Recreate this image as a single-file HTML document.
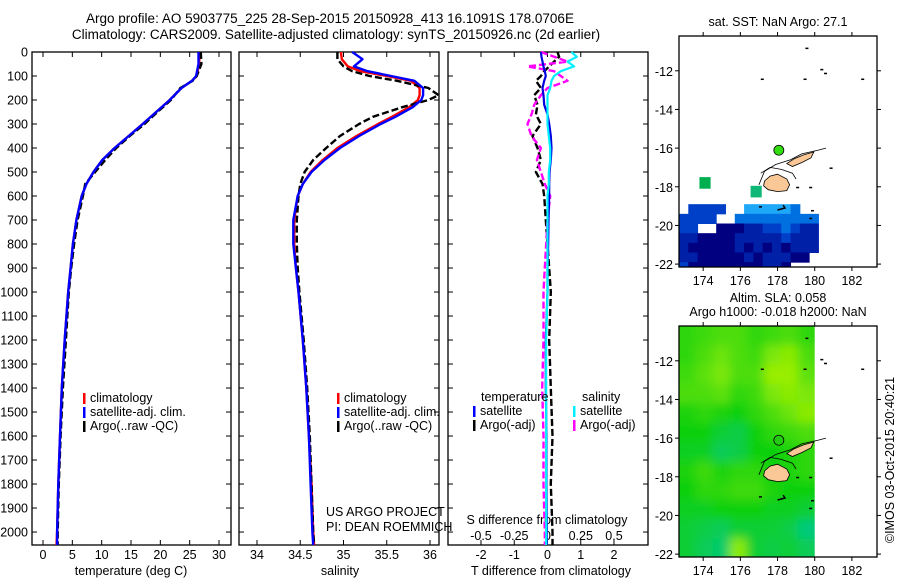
<!DOCTYPE html>
<html><head><meta charset="utf-8"><style>
html,body{margin:0;padding:0;background:#fff}
svg{display:block;font-family:"Liberation Sans",sans-serif}
text{font-size:12.5px;fill:#000}
</style></head><body>
<svg id="fig" width="900" height="580" viewBox="0 0 900 580">
<defs>
<clipPath id="clip1"><rect x="679" y="36" width="198" height="231"/></clipPath>
<clipPath id="clip2"><rect x="679" y="326" width="198" height="231"/></clipPath>
<filter id="blur" x="-10%" y="-10%" width="120%" height="120%"><feGaussianBlur stdDeviation="5"/></filter>
</defs>
<text x="330" y="23" text-anchor="middle" style="font-size:13.5px">Argo profile: AO 5903775_225 28-Sep-2015 20150928_413 16.1091S 178.0706E</text>
<text x="336" y="39" text-anchor="middle" style="font-size:13.5px">Climatology: CARS2009. Satellite-adjusted climatology: synTS_20150926.nc (2d earlier)</text>
<g id="p1"></g>
<g id="p2"></g>
<g id="p3"></g>
<g id="m1"></g>
<g id="m2"></g>
<text transform="translate(894,460) rotate(-90)" text-anchor="middle">©IMOS 03-Oct-2015 20:40:21</text>
</svg>
<script>
// ---- data ----
const depthTicks = [0,100,200,300,400,500,600,700,800,900,1000,1100,1200,1300,1400,1500,1600,1700,1800,1900,2000];
const tempTicks = [0,5,10,15,20,25,30];
const salTicks = [34,34.5,35,35.5,36];
const tdiffTicks = [-2,-1,0,1,2];
const sdiffTicks = [-0.5,-0.25,0,0.25,0.5];
const lonTicks = [174,176,178,180,182];
const latTicks = [-12,-14,-16,-18,-20,-22];

const tDepth = [0,50,100,120,150,200,250,300,350,400,450,500,550,600,700,800,900,1000,1200,1400,1600,1800,2000,2054];
const tClim  = [26.7,26.6,26.2,25.4,23.6,21.6,19.3,17.0,14.6,12.2,10.1,8.6,7.4,6.6,5.7,5.1,4.7,4.3,3.7,3.2,2.9,2.6,2.4,2.3];
const tSat   = [26.5,26.5,26.1,25.4,23.6,21.6,19.3,17.0,14.6,12.2,10.1,8.6,7.4,6.6,5.7,5.1,4.7,4.3,3.7,3.2,2.9,2.6,2.4,2.4];
const tArgo  = [26.9,27.0,26.2,25.5,23.4,21.8,19.5,17.3,14.8,12.5,10.6,8.9,7.2,6.8,5.9,5.3,4.8,4.4,3.9,3.4,3.0,2.7,2.5,2.5];

const sDepth = [0,30,60,80,100,120,150,180,200,230,270,300,350,400,450,500,550,600,700,800,900,1000,1200,1400,1600,1800,2000,2054];
const sClim  = [34.97,34.98,35.05,35.2,35.5,35.78,35.88,35.88,35.86,35.76,35.56,35.4,35.15,34.93,34.76,34.62,34.53,34.47,34.43,34.43,34.45,34.48,34.53,34.57,34.6,34.63,34.65,34.66];
const sSat   = [35.1,35.22,35.12,35.28,35.55,35.82,35.92,35.92,35.9,35.8,35.6,35.43,35.18,34.96,34.78,34.63,34.53,34.47,34.42,34.42,34.45,34.48,34.53,34.57,34.6,34.62,34.64,34.65];
const sArgo  = [34.93,34.93,35.0,35.1,35.3,35.62,35.98,36.1,35.98,35.68,35.34,35.18,34.96,34.8,34.65,34.55,34.5,34.48,34.46,34.46,34.47,34.49,34.54,34.58,34.61,34.63,34.65,34.66];

const dDepth  = [0,20,40,60,80,100,120,150,180,220,260,300,350,400,450,500,550,600,700,800,900,1000,1200,1400,1600,1800,2000,2054];
const dTsat   = [-0.2,-0.18,-0.15,-0.12,-0.08,-0.05,-0.1,-0.15,-0.12,-0.1,0.0,0.05,0.1,0.12,0.1,0.06,0.05,0.05,0.03,0.02,0.0,0.0,-0.05,-0.05,-0.03,-0.03,-0.02,-0.02];
const dTargo  = [0.3,0.35,0.2,0.05,-0.1,-0.2,-0.35,-0.2,-0.4,-0.3,-0.35,-0.2,-0.45,-0.3,-0.2,-0.35,-0.15,-0.1,-0.05,0.0,0.05,0.1,0.05,0.1,0.15,0.1,0.15,0.15];
const dSsat   = [0.18,0.22,0.15,0.2,0.1,0.05,0.03,0.02,0.0,0.0,0.0,0.0,0.01,0.02,0.02,0.01,0.01,0.0,0.0,0.0,0.0,0.0,-0.01,-0.01,-0.01,-0.01,-0.01,-0.01];
const dSargo  = [-0.05,0.05,0.15,-0.15,0.05,0.1,0.15,0.0,-0.05,-0.1,-0.12,-0.15,-0.12,-0.05,-0.08,-0.05,-0.02,0.02,0.0,-0.01,-0.02,-0.03,-0.03,-0.04,-0.03,-0.03,-0.02,-0.02];

// SST grid (0.5 deg cells from lon 172.7, rows from lat -18.4 downward); 0 = no data
const sstLon0 = 172.7, sstLat0 = -18.4;
const sstRows = [
  "0000000000000000",
  "0333300555554000",
  "3333004444444440",
  "3300111223343220",
  "2211112222232220",
  "2111112121212220",
  "2211111212221100",
  "3111111112210000"
];
const sstColors = ["none","#000080","#0020a8","#0040c8","#0070e0","#20a8f8"];
const greenSquares = [[174.1,-17.8,"#00b050"],[176.85,-18.25,"#10b878"]];

// SLA grid: 8 cols from lon 172.7 to 180, 12 rows 1 deg from lat -10.2
const slaGrid = [
  [0.5,0.55,0.6,0.6,0.5,0.55,0.6,0.5],
  [0.5,0.6,0.7,0.6,0.55,0.75,0.8,0.6],
  [0.55,0.65,0.75,0.6,0.6,0.85,0.85,0.65],
  [0.6,0.6,0.65,0.5,0.55,0.75,0.8,0.75],
  [0.45,0.5,0.45,0.4,0.5,0.6,0.7,0.8],
  [0.4,0.4,0.3,0.25,0.4,0.5,0.55,0.6],
  [0.35,0.35,0.2,0.25,0.4,0.4,0.45,0.5],
  [0.45,0.55,0.45,0.5,0.5,0.4,0.45,0.5],
  [0.4,0.5,0.5,0.55,0.55,0.45,0.4,0.4],
  [0.35,0.35,0.4,0.4,0.4,0.35,0.35,0.3],
  [0.3,0.25,0.2,0.3,0.3,0.3,0.25,0.1],
  [0.3,0.2,0.15,0.8,0.3,0.25,0.3,0.2]
];
const argoPos = [178.07,-16.11];

// ---- helpers ----
const NS = "http://www.w3.org/2000/svg";
function mk(parent, tag, attrs, txt){
  const e = document.createElementNS(NS, tag);
  for (const k in attrs) e.setAttribute(k, attrs[k]);
  if (txt !== undefined) e.textContent = txt;
  parent.appendChild(e);
  return e;
}
const TOP=52, BOT=545, DMIN=0, DMAX=2054;
const yD = d => TOP + (d-DMIN)/(DMAX-DMIN)*(BOT-TOP);
function lin(a,b,pa,pb){ return v => pa + (v-a)/(b-a)*(pb-pa); }

function panelFrame(g, x0, x1, showLabels){
  const r = mk(g,'rect',{x:x0,y:TOP,width:x1-x0,height:BOT-TOP,fill:'none',stroke:'#000','stroke-width':1.3});
  
  
  depthTicks.forEach(d=>{
    const y=yD(d);
    mk(g,'line',{x1:x0,x2:x0+5,y1:y,y2:y,stroke:'#000'});
    mk(g,'line',{x1:x1-5,x2:x1,y1:y,y2:y,stroke:'#000'});
    if(showLabels){
      const t = mk(g,'text',{x:x0-4,y:y+4.5,'text-anchor':'end'}, String(d));
      
      
    }
  });
}
function xTicks(g, ticks, sx, yl, fmt, topTicks){
  ticks.forEach(v=>{
    const x=sx(v);
    if(topTicks) mk(g,'line',{x1:x,x2:x,y1:TOP,y2:TOP+5,stroke:'#000'});
    mk(g,'line',{x1:x,x2:x,y1:BOT,y2:BOT-5,stroke:'#000'});
    const t = mk(g,'text',{x:x,y:yl,'text-anchor':'middle'}, fmt?fmt(v):String(v));
    
    
  });
}
function series(g, xs, ds, sx, color, dashed, w, name){
  const pts = ds.map((d,i)=> sx(xs[i]).toFixed(1)+','+yD(d).toFixed(1)).join(' ');
  const p = mk(g,'polyline',{points:pts,fill:'none',stroke:color,'stroke-width':w||2.2,'stroke-dasharray':dashed?'7,3':'none','stroke-linejoin':'round'});
  
  
}
function legend(g, x, y0, items){
  items.forEach((it,i)=>{
    const y=y0+i*14;
    mk(g,'rect',{x:x,y:y-9,width:2.5,height:11,fill:it[1]});
    const t = mk(g,'text',{x:x+7,y:y}, it[0]);
    
    
  });
}

// ---- panel 1: temperature ----
{
  const g=document.getElementById('p1');
  const sx=lin(0,30,43,219);
  panelFrame(g,32,231,true);
  xTicks(g,tempTicks,sx,559,null,true);
  series(g,tClim,tDepth,sx,'#f00',false,2.4,'temp-climatology-line');
  series(g,tArgo,tDepth,sx,'#000',true,2.4,'temp-argo-line');
  series(g,tSat,tDepth,sx,'#0000ff',false,2.4,'temp-satellite-line');
  legend(g,83,402,[['climatology','#f00'],['satellite-adj. clim.','#00f'],['Argo(..raw -QC)','#000']]);
  const t=mk(g,'text',{x:131,y:575,'text-anchor':'middle'},'temperature (deg C)');
  
  
}
// ---- panel 2: salinity ----
{
  const g=document.getElementById('p2');
  const sx=lin(34,36,257,430);
  panelFrame(g,239,439,false);
  xTicks(g,salTicks,sx,559,null,true);
  series(g,sClim,sDepth,sx,'#f00',false,2.4,'sal-climatology-line');
  series(g,sArgo,sDepth,sx,'#000',true,2.4,'sal-argo-line');
  series(g,sSat,sDepth,sx,'#0000ff',false,2.4,'sal-satellite-line');
  legend(g,337,402,[['climatology','#f00'],['satellite-adj. clim.','#00f'],['Argo(..raw -QC)','#000']]);
  mk(g,'text',{x:326,y:516},'US ARGO PROJECT');
  mk(g,'text',{x:326,y:531},'PI: DEAN ROEMMICH');
  const t=mk(g,'text',{x:340,y:575,'text-anchor':'middle'},'salinity');
  
  
}
// ---- panel 3: differences ----
{
  const g=document.getElementById('p3');
  const sxT=lin(-2,2,481,614);
  const sxS=lin(-0.5,0.5,481,614);
  panelFrame(g,448,648,false);
  tdiffTicks.forEach(v=>{mk(g,'line',{x1:sxT(v),x2:sxT(v),y1:TOP,y2:TOP+5,stroke:'#000'});});
  xTicks(g,tdiffTicks,sxT,559,null,false);
  sdiffTicks.forEach(v=>{
    const t=mk(g,'text',{x:sxS(v),y:540,'text-anchor':'middle'},String(v));
    
    
  });
  const st=mk(g,'text',{x:547,y:524,'text-anchor':'middle'},'S difference from climatology');
  
  
  series(g,dTargo,dDepth,sxT,'#000',true,2.4,'tdiff-argo-line');
  series(g,dSargo,dDepth,sxS,'#ff00ff',true,2.4,'sdiff-argo-line');
  series(g,dTsat,dDepth,sxT,'#0000e0',false,2.2,'tdiff-satellite-line');
  series(g,dSsat,dDepth,sxS,'#00f0ff',false,2.2,'sdiff-satellite-line');
  mk(g,'text',{x:481,y:401},'temperature');
  mk(g,'text',{x:582,y:401},'salinity');
  legend(g,473,415,[['satellite','#00f'],['Argo(-adj)','#000']]);
  legend(g,573,415,[['satellite','#00f0ff'],['Argo(-adj)','#ff00ff']]);
  const t=mk(g,'text',{x:551,y:575,'text-anchor':'middle'},'T difference from climatology');
  
  
}
// ---- maps ----
const MX0=679, MX1=877, LON0=172.7, LON1=183.35, LATT=-10.2, LATB=-22.15;
const mxL = lin(LON0,LON1,MX0,MX1);
function drawCoast(g, my){
  const sx=mxL;
  const P=(arr)=>arr.map(p=>sx(p[0]).toFixed(1)+','+my(p[1]).toFixed(1)).join(' ');
  mk(g,'polygon',{points:P([[177.3,-17.7],[177.6,-17.45],[178.0,-17.35],[178.5,-17.6],[178.65,-17.9],[178.5,-18.2],[178.0,-18.25],[177.5,-18.15],[177.25,-17.95]]),fill:'#f9c896',stroke:'#000','stroke-width':0.8});
  mk(g,'polygon',{points:P([[178.5,-16.8],[178.9,-16.55],[179.4,-16.35],[179.95,-16.2],[179.8,-16.5],[179.3,-16.75],[178.8,-16.95]]),fill:'#f9c896',stroke:'#000','stroke-width':0.8});
  mk(g,'polyline',{points:P([[177.0,-17.9],[177.3,-17.2],[177.9,-16.85],[178.7,-16.6],[179.3,-16.3],[180.2,-16.1],[180.6,-16.0]]),fill:'none',stroke:'#000','stroke-width':0.8});
  mk(g,'polyline',{points:P([[177.1,-17.3],[177.6,-17.0],[178.2,-17.1],[178.8,-17.3],[179.0,-17.6]]),fill:'none',stroke:'#000','stroke-width':0.8});
  mk(g,'polyline',{points:P([[178.0,-19.2],[178.4,-19.1],[178.3,-18.95]]),fill:'none',stroke:'#000','stroke-width':1.5});
  [[179.5,-10.8],[180.3,-11.9],[180.5,-12.1],[179.4,-12.4],[182.5,-12.4],[177.1,-12.4],[180.8,-17.0],[179.7,-18.0],[179.0,-18.0],[179.8,-19.2],[179.7,-19.6],[177.0,-19.0]].forEach(p=>{
    mk(g,'rect',{x:sx(p[0]),y:my(p[1]),width:3,height:1.5,fill:'#000'});
  });
}
function mapAxes(g, top, bot, my){
  const r=mk(g,'rect',{x:MX0,y:top,width:MX1-MX0,height:bot-top,fill:'none',stroke:'#000','stroke-width':1.3});
  
  
  lonTicks.forEach(v=>{
    const x=mxL(v);
    mk(g,'line',{x1:x,x2:x,y1:top-4,y2:top,stroke:'#000'});
    mk(g,'line',{x1:x,x2:x,y1:bot,y2:bot+4,stroke:'#000'});
    const t=mk(g,'text',{x:x,y:bot+18,'text-anchor':'middle'},String(v));
    
    
  });
  latTicks.forEach(v=>{
    const y=my(v);
    mk(g,'line',{x1:MX0-4,x2:MX0,y1:y,y2:y,stroke:'#000'});
    mk(g,'line',{x1:MX1,x2:MX1+4,y1:y,y2:y,stroke:'#000'});
    const t=mk(g,'text',{x:MX0-6,y:y+5,'text-anchor':'end'},String(v));
    
    
  });
}
{
  const g=document.getElementById('m1');
  const top=36, bot=267;
  const my=lin(LATT,LATB,top,bot);
  const cg=mk(g,'g',{'clip-path':'url(#clip1)'});
  sstRows.forEach((row,ri)=>{
    for(let ci=0;ci<row.length;ci++){
      const v=+row[ci];
      if(!v) continue;
      const lo=sstLon0+ci*0.5, la=sstLat0-ri*0.5;
      const c=mk(cg,'rect',{x:mxL(lo),y:my(la),width:mxL(lo+0.5)-mxL(lo)+0.5,height:my(la-0.5)-my(la)+0.5,fill:sstColors[v]});
      
      
    }
  });
  greenSquares.forEach(s=>{
    const c=mk(cg,'rect',{x:mxL(s[0]-0.3),y:my(s[1]+0.3),width:mxL(0.6)-mxL(0),height:my(-0.6)-my(0),fill:s[2]});
    
    
  });
  drawCoast(cg,my);
  mk(g,'circle',{cx:mxL(argoPos[0]),cy:my(argoPos[1]),r:5,fill:'#33dd11',stroke:'#000','stroke-width':0.8});
  mapAxes(g,top,bot,my);
  const t=mk(g,'text',{x:778,y:26,'text-anchor':'middle'},'sat. SST: NaN Argo: 27.1');
  
  
}
function slaColor(v){
  const stops=[[0,[0,200,160]],[0.4,[16,208,16]],[1,[200,248,0]]];
  let a=stops[0],b=stops[1];
  if(v>0.4){a=stops[1];b=stops[2];}
  const f=Math.max(0,Math.min(1,(v-a[0])/(b[0]-a[0])));
  const c=a[1].map((x,i)=>Math.round(x+(b[1][i]-x)*f));
  return 'rgb('+c.join(',')+')';
}
{
  const g=document.getElementById('m2');
  const top=326, bot=557;
  const my=lin(LATT,LATB,top,bot);
  const ncol=slaGrid[0].length;
  const cw=(180-172.7)/ncol;
  const cl=mk(g,'g',{'clip-path':'url(#clip2)'});
  const cg=mk(cl,'g',{filter:'url(#blur)'});
  slaGrid.forEach((row,ri)=>{
    row.forEach((v,ci)=>{
      const lo=172.7+ci*cw, la=LATT-ri;
      const x0 = ci===0 ? MX0-15 : mxL(lo);
      const y0 = ri===0 ? top-15 : my(la);
      const x1 = ci===ncol-1 ? mxL(lo+cw)+15 : mxL(lo+cw);
      const y1 = ri===slaGrid.length-1 ? bot+15 : my(la-1);
      const c=mk(cg,'rect',{x:x0,y:y0,width:x1-x0+0.5,height:y1-y0+0.5,fill:slaColor(v)});
      
      
    });
  });
  mk(cl,'rect',{x:mxL(180),y:top,width:MX1-mxL(180),height:bot-top,fill:'#fff'});
  drawCoast(cl,my);
  mk(g,'circle',{cx:mxL(argoPos[0]),cy:my(argoPos[1]),r:5,fill:'#22cc11',stroke:'#000','stroke-width':0.8});
  mapAxes(g,top,bot,my);
  const t1=mk(g,'text',{x:778,y:302,'text-anchor':'middle'},'Altim. SLA: 0.058');
  
  
  const t2=mk(g,'text',{x:778,y:316,'text-anchor':'middle'},'Argo h1000: -0.018 h2000: NaN');
  
  
}
</script>
</body></html>
